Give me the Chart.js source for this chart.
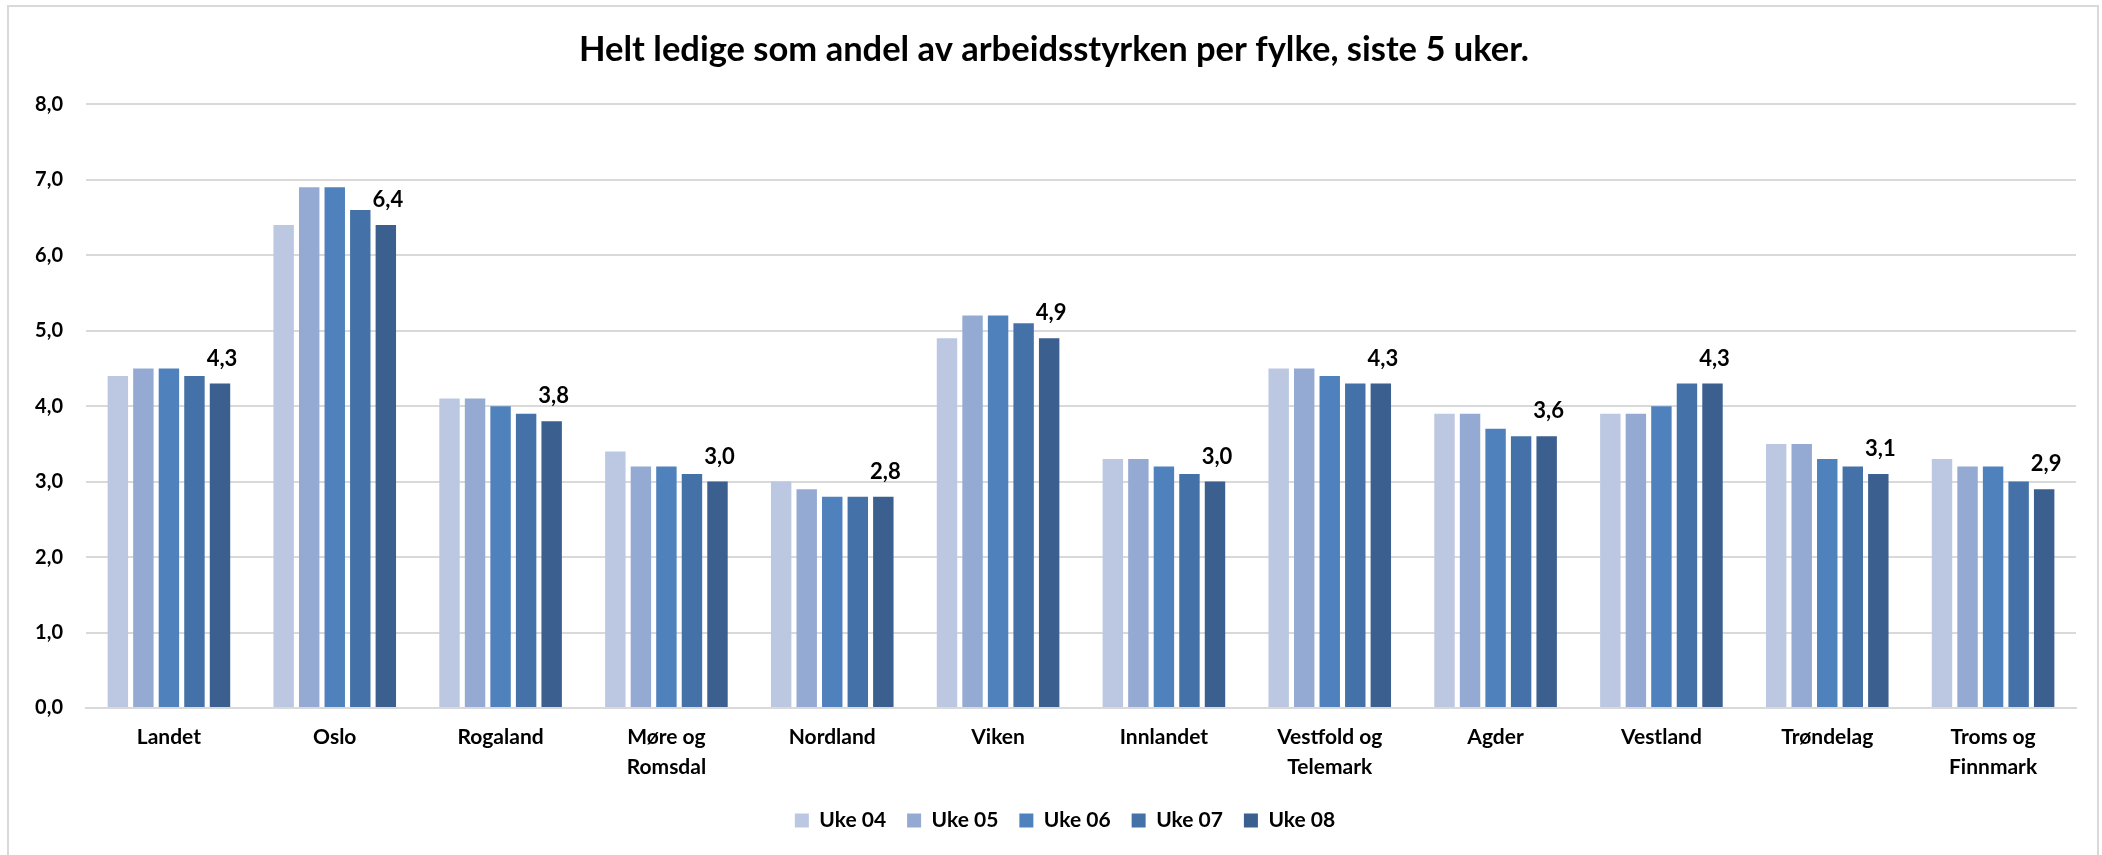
<!DOCTYPE html>
<html>
<head>
<meta charset="utf-8">
<script src="https://cdn.jsdelivr.net/npm/chart.js@4.4.1/dist/chart.umd.min.js"></script>
<style>
  html, body { margin: 0; padding: 0; background: #ffffff; }
  #wrap { position: relative; width: 2102px; height: 855px; overflow: hidden; background: #fff; }
  #c { position: absolute; left: 0; top: 0; }
  #frame { position: absolute; left: 7px; top: 5px; width: 2092px; height: 900px; border: 2px solid #d9d9d9; box-sizing: border-box; pointer-events: none; }
</style>
</head>
<body>
<div id="wrap">
  <canvas id="c" width="2102" height="855"></canvas>
  <div id="frame"></div>
</div>
<script>
const titleText = 'Helt ledige som andel av arbeidsstyrken per fylke, siste 5 uker.';
const categories = [
  'Landet', 'Oslo', 'Rogaland', ['Møre og', 'Romsdal'], 'Nordland', 'Viken',
  'Innlandet', ['Vestfold og', 'Telemark'], 'Agder', 'Vestland', 'Trøndelag', ['Troms og', 'Finnmark']
];
const seriesNames = ['Uke 04', 'Uke 05', 'Uke 06', 'Uke 07', 'Uke 08'];
const uke04 = [4.4, 6.4, 4.1, 3.4, 3.0, 4.9, 3.3, 4.5, 3.9, 3.9, 3.5, 3.3];
const uke05 = [4.5, 6.9, 4.1, 3.2, 2.9, 5.2, 3.3, 4.5, 3.9, 3.9, 3.5, 3.2];
const uke06 = [4.5, 6.9, 4.0, 3.2, 2.8, 5.2, 3.2, 4.4, 3.7, 4.0, 3.3, 3.2];
const uke07 = [4.4, 6.6, 3.9, 3.1, 2.8, 5.1, 3.1, 4.3, 3.6, 4.3, 3.2, 3.0];
const uke08 = [4.3, 6.4, 3.8, 3.0, 2.8, 4.9, 3.0, 4.3, 3.6, 4.3, 3.1, 2.9];
const yTickLabels = ['0,0', '1,0', '2,0', '3,0', '4,0', '5,0', '6,0', '7,0', '8,0'];
const seriesColors = ['#bcc8e1', '#95aad2', '#4f81bd', '#4472a8', '#3b5f8f'];
const seriesValues = [uke04, uke05, uke06, uke07, uke08];

const fmt = v => v.toFixed(1).replace('.', ',');

const valueLabelPlugin = {
  id: 'valueLabels',
  afterDatasetsDraw(chart) {
    const ctx = chart.ctx;
    const idx = chart.data.datasets.length - 1;
    const meta = chart.getDatasetMeta(idx);
    const data = chart.data.datasets[idx].data;
    ctx.save();
    ctx.font = 'bold 22px Lato';
    ctx.fillStyle = '#000000';
    ctx.textAlign = 'center';
    ctx.textBaseline = 'middle';
    meta.data.forEach((bar, i) => {
      ctx.fillText(fmt(data[i]), bar.x + 2, bar.y - 25);
    });
    ctx.restore();
  }
};

// shift the title and legend slightly right, as in the original
const boxShiftPlugin = {
  id: 'boxShift',
  afterLayout(chart) {
    if (chart.titleBlock) { chart.titleBlock.left += 16; chart.titleBlock.right += 16; }
    if (chart.legend) { chart.legend.left += 27; chart.legend.right += 27; }
  }
};

Chart.defaults.font.family = 'Lato';
Chart.defaults.color = '#000000';

new Chart(document.getElementById('c'), {
  type: 'bar',
  data: {
    labels: categories,
    datasets: seriesNames.map((name, i) => ({
      label: name,
      data: seriesValues[i],
      backgroundColor: seriesColors[i],
      borderWidth: 0,
      categoryPercentage: 0.77,
      barPercentage: 0.8
    }))
  },
  options: {
    responsive: false,
    animation: false,
    devicePixelRatio: 1,
    layout: { padding: { left: 0, right: 26, top: 0, bottom: 14 } },
    plugins: {
      title: {
        display: true,
        text: titleText,
        color: '#000000',
        font: { size: 34.5, weight: 'bold', lineHeight: 1.2 },
        padding: { top: 29.3, bottom: 33.6 }
      },
      legend: {
        position: 'bottom',
        labels: {
          boxWidth: 14,
          boxHeight: 14,
          padding: 21,
          color: '#000000',
          font: { size: 21, weight: 'bold' }
        }
      },
      tooltip: { enabled: false }
    },
    scales: {
      x: {
        grid: { display: false, drawTicks: false },
        border: { display: true, color: '#d9d9d9', width: 2 },
        ticks: {
          padding: 14,
          color: '#000000',
          font: { size: 21, weight: 'bold', lineHeight: 1.43 },
          maxRotation: 0,
          autoSkip: false
        },
        afterFit(scale) { scale.height = 81; }
      },
      y: {
        min: 0,
        max: 8,
        grid: { color: '#d9d9d9', lineWidth: 2, drawTicks: false },
        border: { display: false },
        ticks: {
          stepSize: 1,
          padding: 23,
          color: '#000000',
          font: { size: 20, weight: 'bold' },
          callback: (v, i) => yTickLabels[i]
        },
        afterFit(scale) { scale.width = 86; }
      }
    }
  },
  plugins: [valueLabelPlugin, boxShiftPlugin]
});
</script>
</body>
</html>
